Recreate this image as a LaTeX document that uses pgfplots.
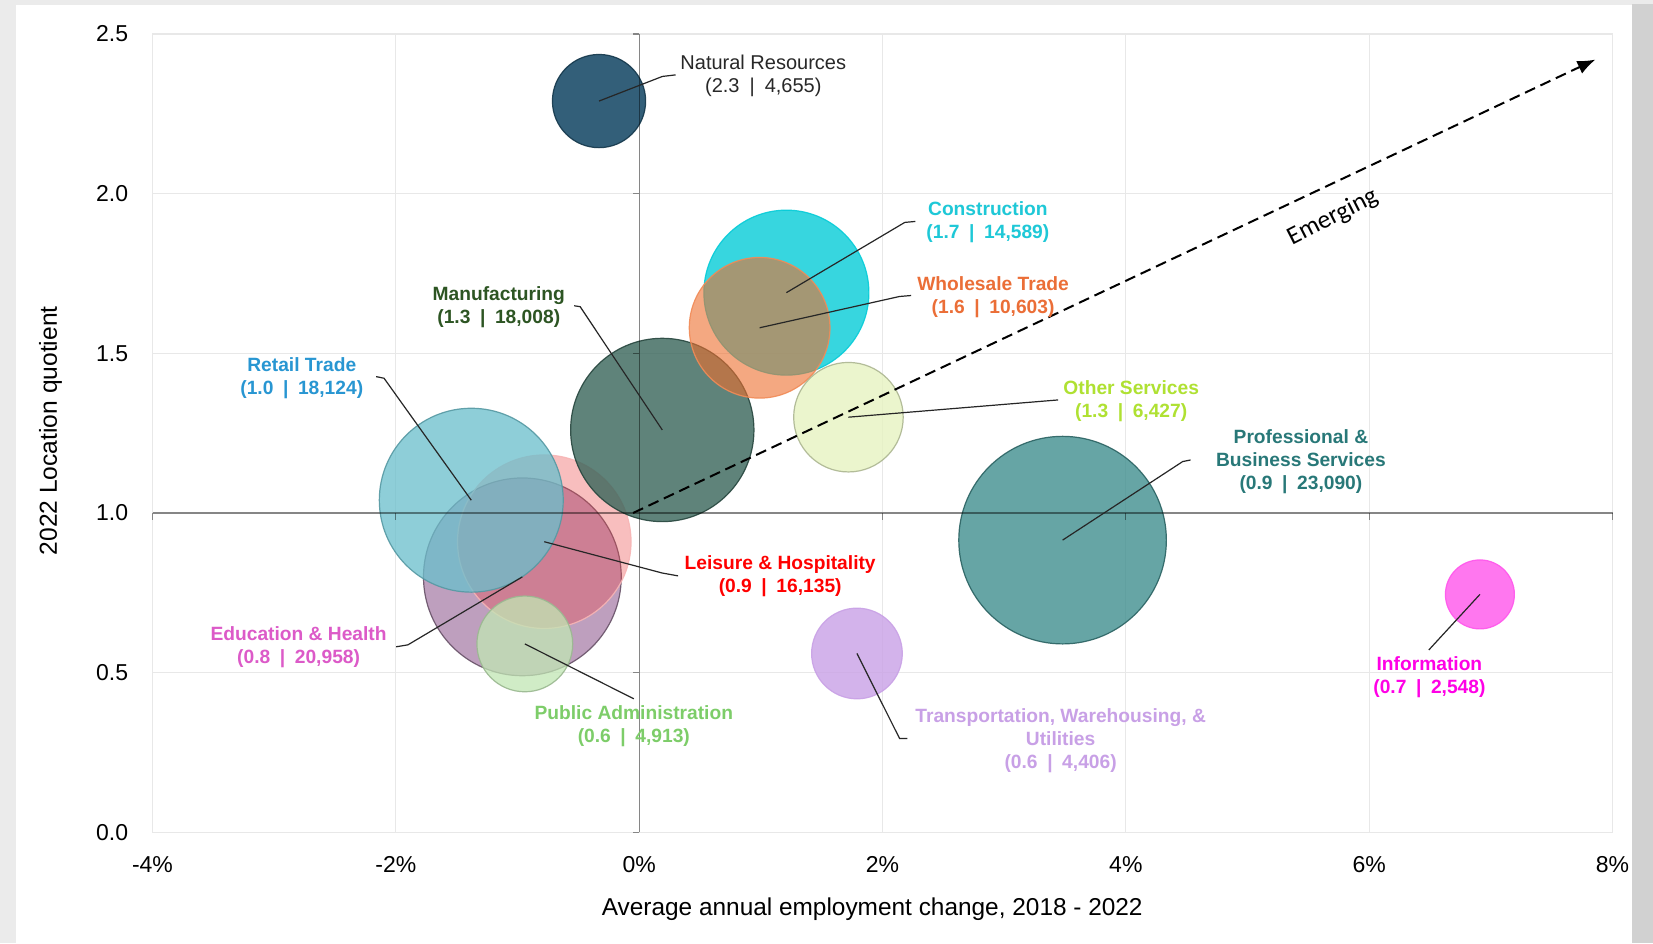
\documentclass[border=0pt]{standalone}
\usepackage{pgfplots}
\pgfplotsset{compat=1.18}
\usepackage{fontspec}
\setmainfont{Liberation Sans}
\newfontfamily\emfont{Carlito}
\usetikzlibrary{arrows.meta}

% bubble fills
\definecolor{cNR}{HTML}{1D4E6B}
\definecolor{cCon}{HTML}{06CCD8}
\definecolor{cWho}{HTML}{EE6E2D}
\definecolor{cMan}{HTML}{376459}
\definecolor{cOth}{HTML}{E6F3C1}
\definecolor{cPro}{HTML}{3C8C8C}
\definecolor{cInf}{HTML}{FF56EC}
\definecolor{cTra}{HTML}{C9A1E6}
\definecolor{cRet}{HTML}{6BBFCC}
\definecolor{cLei}{HTML}{EB4646}
\definecolor{cEdu}{HTML}{AE88AE}
\definecolor{cPub}{HTML}{C1E6B4}
% label colours
\definecolor{tNR}{HTML}{282828}
\definecolor{tCon}{HTML}{1EC8D7}
\definecolor{tWho}{HTML}{EB6E37}
\definecolor{tMan}{HTML}{2D5523}
\definecolor{tRet}{HTML}{2896D2}
\definecolor{tOth}{HTML}{AFE132}
\definecolor{tPro}{HTML}{287878}
\definecolor{tLei}{HTML}{FF0000}
\definecolor{tEdu}{HTML}{DC5AC8}
\definecolor{tPub}{HTML}{7DCD69}
\definecolor{tTra}{HTML}{C8A0E6}
\definecolor{tInf}{HTML}{FF00E6}

\newcommand{\lbl}{\fontsize{9.6}{11.4}\selectfont\bfseries}
\newcommand{\tickf}{\fontsize{11.5}{13}\selectfont}

\pgfplotsset{
  bubble/.style n args={3}{only marks, scatter, mark=*,
    fill opacity=#3, draw opacity=0.9,
    mark options={fill opacity=#3, draw opacity=0.9, line width=0.6pt},
    visualization depends on={0.3415*sqrt(\thisrow{emp}) \as \rad},
    scatter/use mapped color={draw=#2, fill=#1},
    scatter/@pre marker code/.append style={/tikz/mark size=\rad, /tikz/fill opacity=#3}},
}
\tikzset{lead/.style={draw=black!85, line width=0.6pt},
  lab/.style={align=center, inner sep=0pt, font=\lbl},
  cross/.style={draw=black, draw opacity=0.42, line width=0.6pt}}

\begin{document}
\begin{tikzpicture}[x=1pt,y=1pt]
\useasboundingbox (0,0) rectangle (826.5,471.5);
\fill[black!8] (0,0) rectangle (826.5,471.5);
\fill[black!18] (816,0) rectangle (826.5,469.5);
\fill[white] (8,0) rectangle (816,469);
\begin{axis}[
  at={(76.25pt,55.35pt)}, anchor=south west,
  scale only axis, width=730pt, height=399.15pt,
  xmin=-4, xmax=8, ymin=0, ymax=2.5,
  xtick={-4,-2,0,2,4,6,8},
  xticklabels={-4\%,-2\%,0\%,2\%,4\%,6\%,8\%},
  ytick={0,0.5,1,1.5,2,2.5},
  yticklabels={0.0,0.5,1.0,1.5,2.0,2.5},
  tick style={draw=none},
  grid=major,
  major grid style={draw=black!9, line width=0.6pt},
  axis line style={draw=black!9, line width=0.6pt},
  xticklabel style={font=\tickf, anchor=center, yshift=-16pt},
  yticklabel style={font=\tickf, anchor=east, inner sep=0pt, xshift=-12pt},
  xlabel={Average annual employment change, 2018 - 2022},
  ylabel={2022 Location quotient},
  xlabel style={font=\fontsize{12.2}{14}\selectfont, at={(axis description cs:0.493,-0.0957)}, anchor=center},
  ylabel style={font=\fontsize{12.3}{14}\selectfont, at={(axis description cs:-0.0699,0.503)}, anchor=center},
  point meta min=0, point meta max=30000,
  clip=false,
]
% bubbles
\addplot[bubble={cEdu}{cEdu!60!black}{0.8}] table[x=x,y=y,meta=emp]{
x y emp
-0.96 0.80 20958
};
\addplot[bubble={cLei}{cLei!40!white}{0.35}] table[x=x,y=y,meta=emp]{
x y emp
-0.78 0.91 16135
};
\addplot[bubble={cRet}{cRet!80!black}{0.76}] table[x=x,y=y,meta=emp]{
x y emp
-1.38 1.04 18124
};
\addplot[bubble={cPub}{cPub!80!black}{0.75}] table[x=x,y=y,meta=emp]{
x y emp
-0.94 0.59 4913
};
\addplot[bubble={cMan}{cMan!70!black}{0.8}] table[x=x,y=y,meta=emp]{
x y emp
0.19 1.26 18008
};
\addplot[bubble={cCon}{cCon}{0.8}] table[x=x,y=y,meta=emp]{
x y emp
1.21 1.69 14589
};
\addplot[bubble={cWho}{cWho!80!white}{0.6}] table[x=x,y=y,meta=emp]{
x y emp
0.99 1.58 10603
};
\addplot[bubble={cOth}{cOth!75!black}{0.8}] table[x=x,y=y,meta=emp]{
x y emp
1.72 1.30 6427
};
\addplot[bubble={cPro}{cPro!70!black}{0.78}] table[x=x,y=y,meta=emp]{
x y emp
3.48 0.915 23090
};
\addplot[bubble={cTra}{cTra}{0.8}] table[x=x,y=y,meta=emp]{
x y emp
1.79 0.56 4406
};
\addplot[bubble={cInf}{cInf}{0.8}] table[x=x,y=y,meta=emp]{
x y emp
6.91 0.745 2548
};
\addplot[bubble={cNR}{cNR!70!black}{0.9}] table[x=x,y=y,meta=emp]{
x y emp
-0.33 2.29 4655
};

% anchor points for the annotations (drawn after the axis, on top)
\coordinate (x0b) at (axis cs:0,0);  \coordinate (x0t) at (axis cs:0,2.5);
\coordinate (y1l) at (axis cs:-4,1); \coordinate (y1r) at (axis cs:8,1);
\coordinate (ty05) at (axis cs:0,0.5); \coordinate (ty15) at (axis cs:0,1.5); \coordinate (ty20) at (axis cs:0,2);
\coordinate (txm2) at (axis cs:-2,1); \coordinate (tx2) at (axis cs:2,1); \coordinate (tx4) at (axis cs:4,1); \coordinate (tx6) at (axis cs:6,1);
\coordinate (a0) at (axis cs:-0.05,1.0);
\coordinate (a1) at (axis cs:7.86,2.42);
\coordinate (em) at (axis cs:5.70,1.925);
\coordinate (nr0) at (axis cs:-0.33,2.29);  \coordinate (nr1) at (axis cs:0.19,2.367);  \coordinate (nr2) at (axis cs:0.30,2.372);  \coordinate (nrL) at (axis cs:1.02,2.37);
\coordinate (co0) at (axis cs:1.21,1.69);   \coordinate (co1) at (axis cs:2.183,1.910); \coordinate (co2) at (axis cs:2.27,1.913);  \coordinate (coL) at (axis cs:2.866,1.911);
\coordinate (wh0) at (axis cs:0.99,1.58);   \coordinate (wh1) at (axis cs:2.14,1.678);  \coordinate (wh2) at (axis cs:2.235,1.681); \coordinate (whL) at (axis cs:2.909,1.676);
\coordinate (ma0) at (axis cs:0.19,1.26);   \coordinate (ma1) at (axis cs:-0.485,1.646); \coordinate (ma2) at (axis cs:-0.534,1.649); \coordinate (maL) at (axis cs:-1.154,1.645);
\coordinate (re0) at (axis cs:-1.38,1.04);  \coordinate (re1) at (axis cs:-2.097,1.422); \coordinate (re2) at (axis cs:-2.162,1.427); \coordinate (reL) at (axis cs:-2.773,1.422);
\coordinate (ot0) at (axis cs:1.72,1.30);   \coordinate (ot1) at (axis cs:3.443,1.354); \coordinate (otL) at (axis cs:4.044,1.351);
\coordinate (pr0) at (axis cs:3.48,0.915);  \coordinate (pr1) at (axis cs:4.467,1.161); \coordinate (pr2) at (axis cs:4.532,1.166); \coordinate (prL) at (axis cs:5.439,1.161);
\coordinate (le0) at (axis cs:-0.78,0.91);  \coordinate (le1) at (axis cs:0.189,0.812); \coordinate (le2) at (axis cs:0.32,0.803);  \coordinate (leL) at (axis cs:1.159,0.803);
\coordinate (ed0) at (axis cs:-0.96,0.80);  \coordinate (ed1) at (axis cs:-1.901,0.587); \coordinate (ed2) at (axis cs:-1.997,0.581); \coordinate (edL) at (axis cs:-2.799,0.580);
\coordinate (pu0) at (axis cs:-0.94,0.59);  \coordinate (pu1) at (axis cs:-0.044,0.418); \coordinate (puL) at (axis cs:-0.044,0.332);
\coordinate (tr0) at (axis cs:1.79,0.56);   \coordinate (tr1) at (axis cs:2.14,0.294);  \coordinate (tr2) at (axis cs:2.205,0.294); \coordinate (trL) at (axis cs:3.464,0.287);
\coordinate (in0) at (axis cs:6.91,0.745);  \coordinate (in1) at (axis cs:6.49,0.571);  \coordinate (inL) at (axis cs:6.495,0.487);
\end{axis}

% cross-hair lines over the bubbles
\draw[cross] (x0b) -- (x0t);
\draw[cross] (y1l) -- (y1r);
\draw[cross] (x0b) -- ++(-3pt,0pt);
\draw[cross] (ty05) -- ++(-3pt,0pt);
\draw[cross] (ty15) -- ++(-3pt,0pt);
\draw[cross] (ty20) -- ++(-3pt,0pt);
\draw[cross] (x0t) -- ++(-3pt,0pt);
\draw[cross] (y1l) -- ++(0pt,-3.5pt);
\draw[cross] (txm2) -- ++(0pt,-3.5pt);
\draw[cross] (tx2) -- ++(0pt,-3.5pt);
\draw[cross] (tx4) -- ++(0pt,-3.5pt);
\draw[cross] (tx6) -- ++(0pt,-3.5pt);
\draw[cross] (y1r) -- ++(0pt,-3.5pt);

% Emerging arrow
\draw[line width=1pt, dash pattern=on 5.5pt off 3pt, -{Latex[length=9pt,width=7pt]}] (a0) -- (a1);
\node[rotate=27, inner sep=0pt, font=\emfont\fontsize{12.8}{14}\selectfont] at (em) {Emerging};

% leader lines
\draw[lead] (nr0) -- (nr1) -- (nr2);
\draw[lead] (co0) -- (co1) -- (co2);
\draw[lead] (wh0) -- (wh1) -- (wh2);
\draw[lead] (ma0) -- (ma1) -- (ma2);
\draw[lead] (re0) -- (re1) -- (re2);
\draw[lead] (ot0) -- (ot1);
\draw[lead] (pr0) -- (pr1) -- (pr2);
\draw[lead] (le0) -- (le1) -- (le2);
\draw[lead] (ed0) -- (ed1) -- (ed2);
\draw[lead] (pu0) -- (pu1);
\draw[lead] (tr0) -- (tr1) -- (tr2);
\draw[lead] (in0) -- (in1);

% labels
\node[align=center, inner sep=0pt, font=\fontsize{10}{11.4}\selectfont, text=tNR] at (nrL) {Natural Resources\\(2.3\enspace|\enspace4,655)};
\node[lab, text=tCon] at (coL) {Construction\\(1.7\enspace|\enspace14,589)};
\node[lab, text=tWho] at (whL) {Wholesale Trade\\(1.6\enspace|\enspace10,603)};
\node[lab, text=tMan] at (maL) {Manufacturing\\(1.3\enspace|\enspace18,008)};
\node[lab, text=tRet] at (reL) {Retail Trade\\(1.0\enspace|\enspace18,124)};
\node[lab, text=tOth] at (otL) {Other Services\\(1.3\enspace|\enspace6,427)};
\node[lab, text=tPro] at (prL) {Professional \&\\Business Services\\(0.9\enspace|\enspace23,090)};
\node[lab, text=tLei] at (leL) {Leisure \& Hospitality\\(0.9\enspace|\enspace16,135)};
\node[lab, text=tEdu] at (edL) {Education \& Health\\(0.8\enspace|\enspace20,958)};
\node[lab, text=tPub] at (puL) {Public Administration\\(0.6\enspace|\enspace4,913)};
\node[lab, text=tTra] at (trL) {Transportation, Warehousing, \&\\Utilities\\(0.6\enspace|\enspace4,406)};
\node[lab, text=tInf] at (inL) {Information\\(0.7\enspace|\enspace2,548)};
\end{tikzpicture}
\end{document}
